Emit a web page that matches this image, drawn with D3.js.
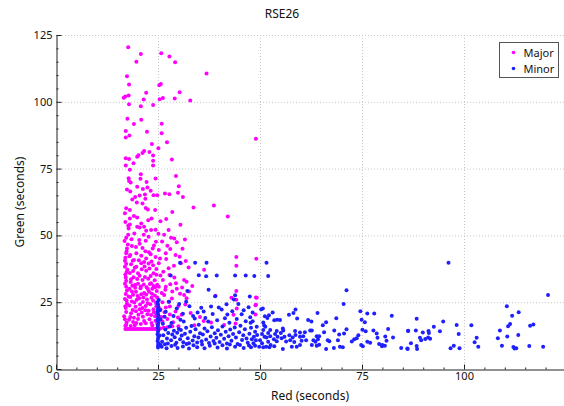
<!DOCTYPE html>
<html lang="en">
<head>
<meta charset="utf-8">
<title>RSE26</title>
<style>
  body { margin: 0; background: #fff; }
  text { font-family: "Noto Sans", "DejaVu Sans", sans-serif; fill: #111; }
</style>
</head>
<body>
<script src="https://d3js.org/d3.v7.min.js"></script>
<script>

// chart values: [red seconds, green seconds]
var seriesNames = ["Major", "Minor"];
var xTicks = [0, 25, 50, 75, 100];
var yTicks = [0, 25, 50, 75, 100, 125];

var majorPts = [
  [17.7,120.4],[20.8,117.9],[25.8,118.2],[27.8,117.0],[19.7,115.0],[29.2,114.8],[36.9,110.6],[17.4,109.6],[17.9,106.5],[25.3,106.2],
  [25.7,106.7],[22.1,103.4],[30.3,103.6],[17.0,102.0],[16.6,101.5],[17.8,102.4],[21.5,100.9],[25.4,101.0],[26.2,101.4],[29.1,101.2],
  [32.9,100.5],[17.9,99.1],[20.8,98.3],[23.8,98.8],[17.5,93.7],[20.9,93.3],[19.1,91.7],[25.9,91.8],[22.3,88.8],[17.1,89.1],
  [25.9,88.2],[18.0,87.4],[17.1,86.6],[49.0,86.2],[25.1,82.6],[27.2,84.9],[23.5,84.2],[21.6,81.6],[21.2,80.8],[22.9,81.2],
  [20.2,80.0],[19.9,79.4],[23.8,79.9],[17.1,78.9],[17.9,78.6],[28.4,78.4],[23.8,77.9],[19.0,77.0],[17.1,76.2],[23.8,76.2],
  [18.1,74.6],[29.4,72.2],[20.8,72.9],[17.8,71.4],[17.9,70.4],[20.7,71.2],[24.4,71.3],[22.2,70.0],[30.1,68.4],[18.3,69.8],
  [17.4,67.2],[22.4,67.9],[19.9,68.2],[21.3,67.4],[18.2,66.4],[23.2,66.7],[26.7,65.7],[27.8,65.4],[29.9,66.0],[31.1,64.4],
  [19.4,64.4],[20.5,64.9],[21.9,63.7],[21.8,65.3],[23.9,65.0],[24.8,65.0],[18.7,63.4],[19.8,62.3],[21.2,61.9],[38.7,61.2],
  [33.7,60.4],[17.2,60.2],[22.0,60.3],[22.5,59.7],[18.1,59.5],[24.3,59.5],[28.5,58.8],[42.1,57.1],[19.1,57.3],[19.9,56.7],
  [27.0,56.1],[25.6,55.3],[22.6,55.7],[23.4,56.3],[18.1,56.3],[20.9,54.5],[17.7,53.6],[17.8,52.6],[18.1,54.1],[30.5,54.0],
  [19.9,53.2],[20.5,53.0],[21.6,53.2],[22.1,51.7],[23.3,52.0],[24.4,52.1],[27.6,52.0],[19.2,50.7],[17.7,50.2],[21.5,50.2],
  [22.7,49.5],[28.2,49.1],[29.0,48.8],[31.6,48.5],[18.5,48.6],[20.4,48.3],[22.0,48.0],[24.5,47.6],[17.6,46.6],[29.6,47.4],
  [27.3,46.1],[21.2,45.3],[23.7,45.1],[25.2,44.5],[17.4,45.1],[19.7,43.3],[22.8,43.7],[26.9,43.3],[29.3,42.7],[44.2,41.9],
  [49.1,41.3],[17.2,43.3],[18.2,42.7],[25.5,41.4],[22.1,41.4],[18.8,40.5],[16.9,40.5],[31.8,40.4],[20.9,39.6],[23.4,40.2],
  [19.7,38.3],[25.2,39.6],[27.6,37.7],[30.6,39.6],[36.3,37.1],[44.2,38.6],[17.5,37.1],[22.1,36.8],[20.1,35.8],[23.9,35.8],
  [27.8,35.2],[17.1,34.2],[18.4,33.6],[26.2,33.3],[21.2,33.3],[31.4,33.3],[32.0,32.7],[29.4,32.1],[23.3,32.1],[19.4,31.5],
  [26.9,30.8],[33.4,31.1],[17.2,30.8],[25.2,30.8],[30.9,30.5],[20.7,30.2],[22.5,29.9],[23.9,31.1],[28.5,29.0],[44.2,29.2],
  [18.6,29.0],[21.6,28.4],[31.4,27.7],[26.5,27.7],[39.1,27.4],[43.0,26.7],[49.2,26.7],[17.8,27.1],[23.4,26.7],[20.4,26.5],
  [32.0,26.5],[44.2,25.9],[27.6,25.2],[17.4,24.4],[19.2,24.9],[22.5,24.6],[49.0,24.0],[30.0,23.6],[17.1,22.8],[21.2,22.8],
  [23.9,22.4],[26.9,23.0],[29.3,21.5],[18.4,20.9],[20.2,20.3],[22.4,20.5],[24.3,19.7],[16.7,19.7],[17.9,18.4],[21.6,18.0],
  [26.1,17.8],[23.4,17.2],[19.7,17.2],[38.0,17.4],[17.2,16.5],
  // floor at 15 s
  [17.0,15.0],[17.5,15.0],[18.0,15.0],[18.5,15.0],[19.0,15.0],[19.5,15.0],[20.0,15.0],[20.5,15.0],[21.0,15.0],[21.5,15.0],
  [22.0,15.0],[22.5,15.0],[23.0,15.0],[23.5,15.0],[24.0,15.0],[24.5,15.0],[25.0,15.1],[25.6,15.2],[26.4,15.4],[27.3,15.6],
  // left edge
  [17.0,16.2],[17.3,17.4],[16.9,18.6],[17.2,21.3],[17.0,23.5],[17.3,25.6],[16.9,26.2],[17.1,28.1],[17.4,29.4],[16.9,31.9],
  [17.2,33.0],[17.0,35.4],[17.3,36.3],[16.9,38.3],[17.2,39.4],[17.0,41.6],[17.3,44.0],[16.8,47.9],[17.2,49.1],[17.0,55.0],[16.9,58.3],
  // dense block
  [18.3,16.1],[18.9,17.6],[19.3,16.4],[20.1,18.7],[20.8,16.8],[21.3,19.6],[22.0,17.1],[22.9,18.6],[23.6,16.3],[24.4,18.1],[24.8,16.9],
  [18.2,19.5],[18.8,22.1],[19.6,21.6],[19.1,19.2],[20.5,22.4],[21.0,21.1],[21.9,22.0],[22.7,21.8],[23.3,20.2],[24.0,21.2],[24.7,20.6],[24.6,23.5],
  [18.0,23.8],[18.6,25.3],[19.5,23.3],[19.8,25.9],[20.6,24.1],[21.3,25.1],[22.0,23.6],[22.3,26.0],[23.1,24.2],[23.8,25.6],[24.5,24.7],[24.8,26.8],
  [18.2,26.9],[18.9,27.8],[19.6,28.9],[20.0,27.3],[20.9,28.0],[21.4,26.8],[22.1,27.9],[22.8,28.9],[23.5,28.2],[24.2,27.5],[24.7,29.2],
  [18.0,30.0],[18.7,31.2],[19.4,30.4],[20.1,31.9],[20.8,30.9],[21.5,31.6],[22.2,30.6],[23.0,31.8],[23.6,30.0],[24.3,30.6],[24.8,31.5],
  [18.3,32.6],[19.0,34.3],[19.9,33.7],[20.5,34.9],[21.8,34.4],[22.6,33.8],[23.2,34.8],[24.2,33.2],[24.6,35.3],
  [18.1,35.9],[18.9,36.7],[19.3,37.9],[21.0,37.3],[21.7,38.4],[22.9,37.6],[23.8,38.8],[24.6,37.4],
  [18.4,39.2],[19.1,40.8],[20.3,40.7],[21.6,40.0],[22.7,39.5],[24.4,41.9],[18.0,42.2],[20.9,42.4],[21.9,44.1],[23.2,42.9],
  [19.6,45.7],[18.6,46.0],[20.5,46.9],[24.0,46.2],
  [25.8,19.5],[26.6,21.2],[27.3,18.7],[27.9,20.4],[28.7,17.5],[29.9,19.3],[25.6,22.4],[26.1,25.0],[27.9,23.4],[28.4,26.4],
  [25.9,28.4],[26.8,29.7],[28.0,31.7],[29.6,30.0],[30.4,28.2],[29.0,34.2],[26.3,36.4],[28.9,38.6],[25.6,35.0],[27.0,41.2],
  [30.3,42.0],[26.0,47.7],[28.0,44.9],[25.1,50.6],[26.5,50.2],[31.0,45.0],[32.5,38.0],[32.6,29.0],[30.8,20.3],[31.7,24.1],
  [33.0,21.0],[35.3,19.5],[28.5,16.0],[33.9,16.4],[36.2,18.0],[44.0,17.0],[43.5,20.3],[44.3,22.6],[48.9,20.4],[49.0,26.8],
  [48.9,23.9],[41.2,16.5],[30.0,16.0]
];

var minorPts = [
  // outliers
  [96.2,39.8],[51.6,39.8],[30.4,39.8],[34.1,39.8],[36.9,39.8],[28.1,35.0],[35.0,35.1],[36.8,34.7],[39.4,35.0],[43.9,35.0],
  [46.5,35.0],[48.6,34.8],[52.0,34.8],[37.4,29.7],[43.9,27.6],[39.0,27.2],[47.5,27.1],[32.2,29.2],[31.9,25.2],[71.2,29.5],
  [70.5,24.3],[120.6,27.7],[110.5,23.5],[113.4,21.2],[111.8,19.9],
  // right side
  [88.4,18.8],[94.9,17.8],[101.8,16.4],[98.2,16.5],[111.3,16.8],[110.8,16.0],[116.2,16.2],[117.0,16.7],[92.6,15.8],[86.3,14.2],
  [88.2,14.4],[89.9,13.7],[91.3,14.2],[91.4,13.5],[94.1,14.1],[108.8,14.4],[98.7,13.1],[113.3,12.7],[89.2,11.7],[89.5,10.8],
  [90.5,11.2],[91.2,11.8],[91.7,11.3],[110.6,12.2],[108.3,11.5],[103.1,11.7],[102.6,10.0],[87.0,9.6],[103.5,8.3],[109.3,8.7],
  [112.1,8.2],[112.4,7.7],[112.8,7.8],[116.0,8.6],[119.4,8.3],[84.6,7.9],[86.1,7.7],[88.4,8.6],[88.5,7.5],[96.7,7.8],
  [97.5,8.7],[98.9,7.8],[86.2,7.5],[80.7,12.2],[79.9,8.5],
  // middle
  [50.3,22.4],[50.7,22.6],[53.1,21.1],[52.2,20.1],[51.2,19.7],[51.8,19.1],[53.5,18.2],[54.2,18.4],[54.9,18.3],[50.8,17.4],
  [48.2,17.9],[47.7,17.3],[48.2,21.1],[58.2,21.0],[58.7,22.3],[59.1,18.9],[57.1,20.3],[64.1,21.0],[61.8,18.3],[62.6,17.8],
  [66.2,17.5],[65.4,16.4],[68.7,19.0],[74.6,21.6],[76.3,20.8],[78.0,20.8],[74.9,18.4],[75.7,17.5],[82.3,19.9],[81.4,15.0],
  [75.1,14.7],[75.9,14.1],[77.8,14.4],[78.6,13.3],[74.1,12.6],[73.7,11.5],[76.3,10.2],[77.0,9.8],[78.8,11.7],[79.2,9.4],
  [81.0,10.6],[82.6,11.8],[86.3,14.3],[80.0,9.0],[80.6,8.7],[72.5,10.3],[73.1,11.1],[71.2,14.9],[70.6,13.3],[69.4,12.9],
  [69.1,10.8],[68.2,14.4],[74.8,9.0],[75.2,8.5],[69.6,8.3],[70.3,8.1],[68.1,7.9],[66.6,10.8],[67.0,10.4],[66.2,7.5],
  [65.7,13.8],[63.9,12.3],[64.5,12.3],[64.2,11.1],[63.1,10.8],[63.6,10.2],[62.7,9.0],[63.9,8.7],[64.5,9.1],[62.3,14.4],
  [62.7,14.4],[61.0,13.8],[60.6,12.3],[61.3,10.8],[59.8,13.7],[59.8,12.1],[60.2,10.6],[59.8,9.0],[59.0,8.3],[58.6,14.2],
  [58.7,12.7],[58.0,11.8],[58.4,10.1],[57.8,8.3],[57.2,12.6],[57.4,10.8],[55.6,15.2],[55.7,14.4],[55.1,13.5],[56.0,12.1],
  [55.3,11.5],[56.4,10.3],[55.6,7.5],[54.1,14.2],[53.7,13.1],[54.3,12.1],[53.4,11.1],[54.1,10.4],[53.5,8.5],[52.5,14.6],
  [52.0,13.5],[52.5,12.3],[51.6,11.8],[52.0,10.2],[52.6,9.0],[52.3,8.1],[51.5,8.3],[51.0,16.4],[51.3,15.8],[50.8,14.6],
  [50.5,13.1],[51.1,12.1],[50.0,10.8],[50.5,9.6],[49.8,8.3],[50.8,8.1],[49.2,15.8],[48.8,13.9],[49.3,12.7],[48.5,12.1],
  [49.0,10.8],[48.0,11.1],[48.4,9.6],[48.8,8.7],[47.8,8.1],
  // column at 25 s
  [25.0,8.0],[25.0,8.8],[25.1,9.6],[24.9,10.5],[25.0,11.3],[25.1,12.2],[24.9,13.0],[25.0,13.9],[25.1,14.7],[24.9,15.6],
  [25.0,16.4],[25.1,17.3],[24.9,18.2],[25.0,19.0],[25.1,19.9],[25.0,20.8],[24.9,21.6],[25.0,22.5],[25.1,23.3],[25.0,24.2],
  [24.9,25.1],[25.2,25.8],[25.5,22.0],[25.6,18.5],[25.4,12.5],[25.6,9.0],
  // low band near 8 s
  [25.9,8.3],[26.7,9.3],[27.1,7.8],[28.3,8.6],[29.2,9.1],[29.8,7.9],[31.1,8.4],[32.0,9.4],[32.6,7.7],[33.7,8.9],
  [34.6,8.1],[35.8,9.2],[36.4,7.8],[37.7,8.7],[38.9,9.5],[39.6,8.0],[40.8,8.9],[41.9,7.7],[42.6,9.2],[43.9,8.3],
  [45.1,9.0],[46.0,7.9],[47.3,8.8],
  // dense block 25-48 s
  [26.0,10.2],[26.3,12.6],[26.8,14.8],[26.2,16.9],[26.6,19.6],[27.2,11.4],[27.5,13.5],[27.9,15.9],[27.4,9.5],[28.2,10.8],
  [28.5,12.9],[28.9,14.3],[28.3,17.2],[29.1,11.9],[29.5,9.8],[29.7,13.6],[30.1,15.0],[30.4,11.1],[30.8,12.5],[30.6,14.6],
  [31.2,10.0],[31.6,13.2],[31.9,15.4],[31.3,17.8],[32.3,11.5],[32.6,9.6],[32.9,13.9],[33.2,16.1],[33.5,10.7],[33.9,12.3],
  [34.2,14.9],[34.0,18.9],[34.6,9.9],[34.9,11.8],[35.3,13.4],[35.0,16.6],[35.7,10.4],[36.0,12.9],[36.4,15.2],[36.2,21.5],
  [36.8,11.0],[37.1,14.1],[37.5,9.7],[37.3,17.8],[37.9,12.2],[38.2,15.6],[38.6,10.5],[38.9,13.4],[38.4,20.6],[39.3,11.7],
  [39.7,14.5],[39.5,18.2],[40.1,10.1],[40.4,12.8],[40.8,15.9],[40.6,22.3],[41.2,11.3],[41.6,13.9],[41.9,9.5],[41.4,19.0],
  [42.3,12.3],[42.7,14.8],[42.5,17.3],[43.0,10.6],[43.4,13.1],[43.2,21.6],[43.8,15.5],[44.1,11.8],[44.5,9.4],[44.3,18.7],
  [44.9,13.8],[45.2,16.2],[45.6,10.9],[45.9,12.6],[45.5,20.5],[46.3,14.9],[46.7,11.4],[46.5,17.9],[47.0,9.8],[47.4,13.2],
  [47.2,23.1],[47.8,15.4],[47.6,19.4],[26.9,21.4],[28.8,19.8],[29.6,22.6],[30.5,18.4],[31.1,20.7],[32.7,23.5],[34.7,21.1],
  [35.6,22.9],[39.9,23.0],[41.8,24.2],[44.7,24.3],[46.0,22.0],[33.6,19.8],[36.6,19.1],[38.0,23.4],[42.0,20.4],[43.6,26.0],
  [30.2,24.3],[27.7,25.2]
];

var colors = { Major: "#ff00ff", Minor: "#2020ff" };

// dimensions
var w = 564;
var h = 406;
var margin = {top: 35, right: -2, bottom: 37, left: 56};

var x = d3.scaleLinear().domain([0, 125]).range([margin.left, w - margin.right]);
var y = d3.scaleLinear().domain([0, 125]).range([h - margin.bottom, margin.top]);

var svg = d3.select("body").append("svg")
    .attr("width", w).attr("height", h);

// dotted grid at major ticks
var grid = svg.append("g").attr("id", "grid");
grid.selectAll("line.gx")
    .data(xTicks.filter(function(d) { return d > 0; }))
    .enter().append("line")
    .attr("x1", function(d) { return x(d) + 0.5; }).attr("x2", function(d) { return x(d) + 0.5; })
    .attr("y1", y(0)).attr("y2", y(125))
    .attr("stroke", "#c8c8c8").attr("stroke-dasharray", "1,2");
grid.selectAll("line.gy")
    .data(yTicks.filter(function(d) { return d > 0; }))
    .enter().append("line")
    .attr("y1", function(d) { return y(d) + 0.5; }).attr("y2", function(d) { return y(d) + 0.5; })
    .attr("x1", x(0)).attr("x2", w)
    .attr("stroke", "#c8c8c8").attr("stroke-dasharray", "1,2");

// points, Major first so Minor sits on top
var plot = svg.append("g").attr("id", "points");
plot.selectAll("circle.major")
    .data(majorPts)
    .enter().append("circle")
    .attr("cx", function(d) { return x(d[0]); })
    .attr("cy", function(d) { return y(d[1]); })
    .attr("r", 2)
    .attr("fill", colors.Major);
plot.selectAll("circle.minor")
    .data(minorPts)
    .enter().append("circle")
    .attr("cx", function(d) { return x(d[0]); })
    .attr("cy", function(d) { return y(d[1]); })
    .attr("r", 2)
    .attr("fill", colors.Minor);

// axes (ticks point inward)
var minorX = d3.range(5, 125, 5).filter(function(d) { return d % 25 != 0; });
var minorY = d3.range(5, 125, 5).filter(function(d) { return d % 25 != 0; });

svg.append("g").attr("transform", "translate(0," + (y(0) + 0.5) + ")")
    .call(d3.axisBottom(x).tickValues(xTicks).tickSize(-5).tickSizeOuter(0).tickPadding(3));
svg.append("g").attr("transform", "translate(0," + (y(0) + 0.5) + ")")
    .call(d3.axisBottom(x).tickValues(minorX).tickSize(-2).tickSizeOuter(0).tickFormat(""))
    .select(".domain").remove();

svg.append("g").attr("transform", "translate(" + (x(0) + 0.5) + ",0)")
    .call(d3.axisLeft(y).tickValues(yTicks).tickSize(-5).tickSizeOuter(0).tickPadding(4));
svg.append("g").attr("transform", "translate(" + (x(0) + 0.5) + ",0)")
    .call(d3.axisLeft(y).tickValues(minorY).tickSize(-2).tickSizeOuter(0).tickFormat(""))
    .select(".domain").remove();

svg.selectAll(".tick text").style("font-size", "11px").style("font-family", "'Noto Sans', sans-serif").attr("fill", "#111");
svg.selectAll(".domain, .tick line").attr("stroke", "#222");

// titles
svg.append("text").text("RSE26")
    .attr("x", w / 2).attr("y", 18).attr("text-anchor", "middle").style("font-size", "12px");
svg.append("text").text("Red (seconds)")
    .attr("x", (margin.left + w) / 2).attr("y", 400).attr("text-anchor", "middle").style("font-size", "12px");
svg.append("text").text("Green (seconds)")
    .attr("transform", "translate(24," + ((y(0) + y(125)) / 2) + ") rotate(-90)")
    .attr("text-anchor", "middle").style("font-size", "12px");

// legend
var legend = svg.append("g").attr("transform", "translate(499.5,42.5)");
legend.append("rect").attr("width", 59).attr("height", 35)
    .attr("fill", "#fff").attr("stroke", "#555");
seriesNames.forEach(function(name, i) {
  legend.append("circle").attr("cx", 14).attr("cy", 10 + i * 16).attr("r", 1.8).attr("fill", colors[name]);
  legend.append("text").text(name).attr("x", 24).attr("y", 14 + i * 16).style("font-size", "11px");
});

</script>
</body>
</html>
